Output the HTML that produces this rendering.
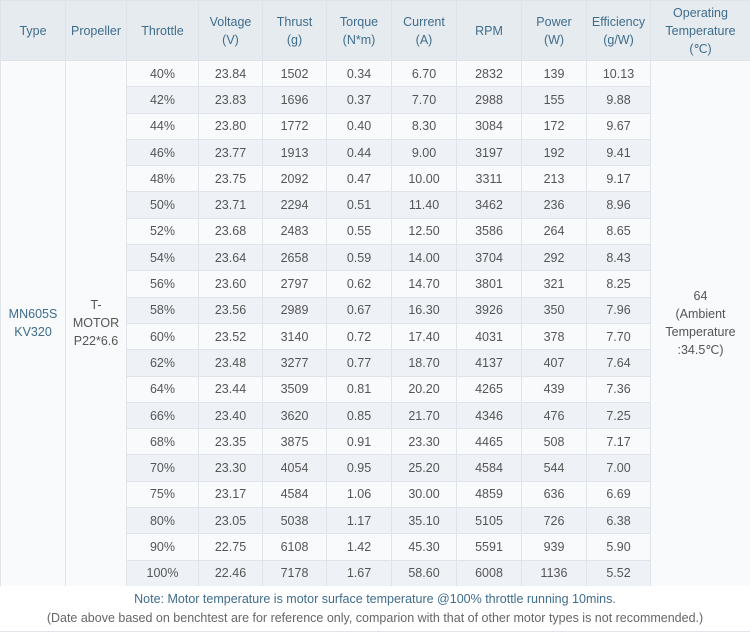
<!DOCTYPE html>
<html><head><style>
body{margin:0;width:750px;height:639px;background:#fff;font-family:"Liberation Sans",sans-serif;overflow:hidden}
table{border-collapse:collapse;table-layout:fixed;width:750px;position:absolute;top:0;left:0}
td,th{border:1px solid #dfe4ea;text-align:center;padding:0;font-weight:normal;font-size:12.5px;color:#555}
th{background:#e6ebef;color:#3f6d8c;height:59px;line-height:18px}
td{height:25.3px}
tr.e td{background:#eef2f6}
tr.o td{background:#f8fafc}
td.sp{background:#f8fafc!important;line-height:18px}
.note{position:absolute;top:586px;left:0;width:750px;height:46px;border-bottom:1px solid #dfe4ea;text-align:center;font-size:12.5px;line-height:19px;padding-top:4px;box-sizing:border-box;background:#fff}
</style></head><body>
<table>
<colgroup><col style="width:65px"><col style="width:61px"><col style="width:72px"><col style="width:64px"><col style="width:64px"><col style="width:65px"><col style="width:65px"><col style="width:65px"><col style="width:65px"><col style="width:64px"><col style="width:100px"></colgroup>
<tr><th>Type</th><th>Propeller</th><th>Throttle</th><th>Voltage<br>(V)</th><th>Thrust<br>(g)</th><th>Torque<br>(N*m)</th><th>Current<br>(A)</th><th>RPM</th><th>Power<br>(W)</th><th>Efficiency<br>(g/W)</th><th>Operating<br>Temperature<br>(℃)</th></tr>
<tr class="o"><td class="sp" rowspan="20" style="color:#3f6d8c">MN605S<br>KV320</td><td class="sp" rowspan="20">T-<br>MOTOR<br>P22*6.6</td><td>40%</td><td>23.84</td><td>1502</td><td>0.34</td><td>6.70</td><td>2832</td><td>139</td><td>10.13</td><td class="sp" rowspan="20">64<br>(Ambient<br>Temperature<br>:34.5℃)</td></tr>
<tr class="e"><td>42%</td><td>23.83</td><td>1696</td><td>0.37</td><td>7.70</td><td>2988</td><td>155</td><td>9.88</td></tr>
<tr class="o"><td>44%</td><td>23.80</td><td>1772</td><td>0.40</td><td>8.30</td><td>3084</td><td>172</td><td>9.67</td></tr>
<tr class="e"><td>46%</td><td>23.77</td><td>1913</td><td>0.44</td><td>9.00</td><td>3197</td><td>192</td><td>9.41</td></tr>
<tr class="o"><td>48%</td><td>23.75</td><td>2092</td><td>0.47</td><td>10.00</td><td>3311</td><td>213</td><td>9.17</td></tr>
<tr class="e"><td>50%</td><td>23.71</td><td>2294</td><td>0.51</td><td>11.40</td><td>3462</td><td>236</td><td>8.96</td></tr>
<tr class="o"><td>52%</td><td>23.68</td><td>2483</td><td>0.55</td><td>12.50</td><td>3586</td><td>264</td><td>8.65</td></tr>
<tr class="e"><td>54%</td><td>23.64</td><td>2658</td><td>0.59</td><td>14.00</td><td>3704</td><td>292</td><td>8.43</td></tr>
<tr class="o"><td>56%</td><td>23.60</td><td>2797</td><td>0.62</td><td>14.70</td><td>3801</td><td>321</td><td>8.25</td></tr>
<tr class="e"><td>58%</td><td>23.56</td><td>2989</td><td>0.67</td><td>16.30</td><td>3926</td><td>350</td><td>7.96</td></tr>
<tr class="o"><td>60%</td><td>23.52</td><td>3140</td><td>0.72</td><td>17.40</td><td>4031</td><td>378</td><td>7.70</td></tr>
<tr class="e"><td>62%</td><td>23.48</td><td>3277</td><td>0.77</td><td>18.70</td><td>4137</td><td>407</td><td>7.64</td></tr>
<tr class="o"><td>64%</td><td>23.44</td><td>3509</td><td>0.81</td><td>20.20</td><td>4265</td><td>439</td><td>7.36</td></tr>
<tr class="e"><td>66%</td><td>23.40</td><td>3620</td><td>0.85</td><td>21.70</td><td>4346</td><td>476</td><td>7.25</td></tr>
<tr class="o"><td>68%</td><td>23.35</td><td>3875</td><td>0.91</td><td>23.30</td><td>4465</td><td>508</td><td>7.17</td></tr>
<tr class="e"><td>70%</td><td>23.30</td><td>4054</td><td>0.95</td><td>25.20</td><td>4584</td><td>544</td><td>7.00</td></tr>
<tr class="o"><td>75%</td><td>23.17</td><td>4584</td><td>1.06</td><td>30.00</td><td>4859</td><td>636</td><td>6.69</td></tr>
<tr class="e"><td>80%</td><td>23.05</td><td>5038</td><td>1.17</td><td>35.10</td><td>5105</td><td>726</td><td>6.38</td></tr>
<tr class="o"><td>90%</td><td>22.75</td><td>6108</td><td>1.42</td><td>45.30</td><td>5591</td><td>939</td><td>5.90</td></tr>
<tr class="e"><td>100%</td><td>22.46</td><td>7178</td><td>1.67</td><td>58.60</td><td>6008</td><td>1136</td><td>5.52</td></tr>
</table>
<div class="note"><span style="color:#3f6d8c">Note: Motor temperature is motor surface temperature @100% throttle running 10mins.</span><br><span style="color:#666">(Date above based on benchtest are for reference only, comparion with that of other motor types is not recommended.)</span></div>
</body></html>
